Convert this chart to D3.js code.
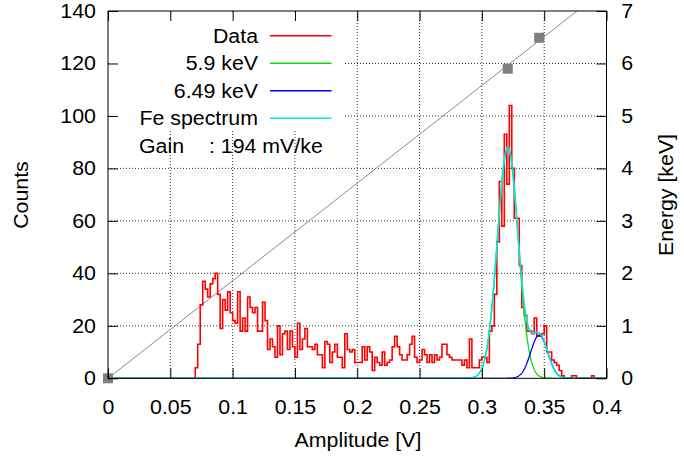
<!DOCTYPE html>
<html>
<head>
<meta charset="UTF-8">
<script src="https://d3js.org/d3.v7.min.js"></script>
<style>
body { margin: 0; background: #fff; }
svg text { font-family: "Liberation Sans", Arial, Helvetica, sans-serif; font-size: 19.4px; fill: #000; }
</style>
</head>
<body>
<svg width="684" height="466"></svg>
<script>
// histogram, counts per 0.002 V bin starting at 0.070 V
var binStart = 0.070;
var binWidth = 0.002;
var counts = [
  4, 13, 28, 37, 34, 31, 36, 38, 40, 32, 19, 30, 26, 33, 25,
  22, 21, 33, 18, 23, 18, 31, 27, 25, 27, 18, 18, 29, 22, 11,
  15, 12, 8, 20, 9, 17, 18, 11, 18, 12, 8, 21, 11, 15, 19,
  12, 12, 11, 13, 9, 9, 4, 14, 13, 6, 10, 13, 8, 8, 4,
  17, 11, 10, 11, 6, 6, 6, 12, 7, 12, 10, 3, 8, 6, 5,
  10, 5, 6, 7, 12, 16, 12, 9, 7, 7, 9, 13, 16, 8, 6,
  7, 11, 9, 6, 9, 6, 9, 7, 8, 13, 13, 9, 8, 7, 7,
  7, 7, 5, 7, 4, 15, 4, 4, 4, 7, 8, 8, 6, 18, 20,
  32, 52, 75, 58, 93, 74, 104, 80, 61, 61, 43, 27, 24, 18, 18,
  17, 23, 16, 16, 17, 20, 10, 10, 7, 6, 5, 3, 1, 0, 0,
  0, 1, 1, 0, 0, 0, 0, 0, 0, 1, 0
];

// gaussian fit results: [height, mean V, sigma V]
var fit59 = [88, 0.3208, 0.0083];
var fit649 = [16.5, 0.346, 0.0068];

// calibration points and gain line (V -> keV)
var calibAmp = [0, 0.3208, 0.346];
var calibEnergy = [0, 5.9, 6.49];
var gainAmp = [0, 0.4];
var gainEnergy = [0, 7.44];

var xTicks = [0, 0.05, 0.1, 0.15, 0.2, 0.25, 0.3, 0.35, 0.4];
var countTicks = [0, 20, 40, 60, 80, 100, 120, 140];
var energyTicks = [0, 1, 2, 3, 4, 5, 6, 7];
var legendNames = ["Data", "5.9 keV", "6.49 keV", "Fe spectrum"];
var gainText = ": 194 mV/ke";

var colors = ["#ff0000", "#00e600", "#0000ff", "#00e5e5"];
var SX = 1.1; // fonts look horizontally stretched in the original

var svg = d3.select("svg");
var pL = 108, pR = 606.5, pT = 11, pB = 378.3;

var x = d3.scaleLinear().domain([0, 0.4]).range([pL, pR]);
var y = d3.scaleLinear().domain([0, 140]).range([pB, pT]);
var yE = d3.scaleLinear().domain([0, 7]).range([pB, pT]);

svg.append("defs").append("clipPath").attr("id", "plotclip")
  .append("rect").attr("x", pL).attr("y", pT)
  .attr("width", pR - pL).attr("height", pB - pT);

// dotted grid
var grid = svg.append("g").attr("stroke", "#333").attr("stroke-width", 1)
  .attr("stroke-dasharray", "1,2");
grid.selectAll(".gx").data(xTicks.slice(1, -1)).enter().append("line")
  .attr("x1", d => x(d)).attr("x2", d => x(d))
  .attr("y1", pT).attr("y2", pB);
grid.selectAll(".gy").data(countTicks.slice(1, -1)).enter().append("line")
  .attr("x1", pL).attr("x2", pR)
  .attr("y1", d => y(d)).attr("y2", d => y(d));

// opaque key background
svg.append("rect").attr("x", pL + 1).attr("y", pT + 1)
  .attr("width", 343 - pL - 1).attr("height", 130 - pT - 1)
  .attr("fill", "#fff");

var plot = svg.append("g").attr("clip-path", "url(#plotclip)");

// gain line
plot.append("line")
  .attr("x1", x(gainAmp[0])).attr("y1", yE(gainEnergy[0]))
  .attr("x2", x(gainAmp[1])).attr("y2", yE(gainEnergy[1]))
  .attr("stroke", "#8a8a8a").attr("stroke-width", 1);

// histogram steps
var histPts = [[0, 0]];
counts.forEach(function(c, i) { histPts.push([binStart + i * binWidth, c]); });
histPts.push([binStart + counts.length * binWidth, 0]);
histPts.push([0.4, 0]);

var stepLine = d3.line().x(d => x(d[0])).y(d => y(d[1])).curve(d3.curveStepAfter);
plot.append("path").attr("d", stepLine(histPts))
  .attr("fill", "none").attr("stroke", colors[0]).attr("stroke-width", 1.6);

function gauss(p, v) {
  return p[0] * Math.exp(-0.5 * Math.pow((v - p[1]) / p[2], 2));
}
var xs = d3.range(0, 0.40001, 0.0005);
var curve = d3.line().x(d => x(d[0])).y(d => y(d[1]));

plot.append("path").attr("d", curve(xs.map(v => [v, gauss(fit59, v)])))
  .attr("fill", "none").attr("stroke", colors[1]).attr("stroke-width", 1.3);
plot.append("path").attr("d", curve(xs.map(v => [v, gauss(fit649, v)])))
  .attr("fill", "none").attr("stroke", colors[2]).attr("stroke-width", 1.3);
plot.append("path").attr("d", curve(xs.map(v => [v, gauss(fit59, v) + gauss(fit649, v)])))
  .attr("fill", "none").attr("stroke", colors[3]).attr("stroke-width", 1.6);

// calibration squares
svg.selectAll(".sq").data(calibAmp).enter().append("rect")
  .attr("x", (d, i) => x(d) - 5).attr("y", (d, i) => yE(calibEnergy[i]) - 5)
  .attr("width", 10).attr("height", 10).attr("fill", "#7f7f7f");

// axes
var fmt = d => String(+d.toFixed(2));
var gB = svg.append("g").attr("transform", "translate(0," + pB + ")")
  .call(d3.axisBottom(x).tickValues(xTicks).tickSize(-10).tickPadding(22).tickFormat(fmt));
var gT = svg.append("g").attr("transform", "translate(0," + pT + ")")
  .call(d3.axisTop(x).tickValues(xTicks).tickSize(-10).tickFormat(""));
var gL = svg.append("g").attr("transform", "translate(" + pL + ",0)")
  .call(d3.axisLeft(y).tickValues(countTicks).tickSize(-10).tickPadding(11).tickFormat(fmt));
var gR = svg.append("g").attr("transform", "translate(" + pR + ",0)")
  .call(d3.axisRight(yE).tickValues(energyTicks).tickSize(-10).tickPadding(13.5).tickFormat(fmt));

[gB, gT, gL, gR].forEach(function(g) {
  g.select(".domain").remove();
  g.selectAll("line").attr("stroke", "#000");
  g.selectAll("text").attr("transform", "scale(" + SX + ",1)");
});

svg.append("rect").attr("x", pL).attr("y", pT)
  .attr("width", pR - pL).attr("height", pB - pT)
  .attr("fill", "none").attr("stroke", "#000").attr("stroke-width", 1);

// titles
function label(str, tx, ty, anchor, rot) {
  svg.append("text")
    .attr("transform", "translate(" + tx + "," + ty + ")" + (rot ? " rotate(" + rot + ")" : "") + " scale(" + SX + ",1)")
    .attr("text-anchor", anchor)
    .text(str);
}
label("Amplitude [V]", 358, 447, "middle");
label("Counts", 28, 195, "middle", -90);
label("Energy [keV]", 673, 195, "middle", -90);

// legend
var rowY = [35.7, 63.3, 90.7, 118.3];
legendNames.forEach(function(name, i) {
  label(name, 258, rowY[i] + 7, "end");
  svg.append("line").attr("x1", 270).attr("x2", 331.5)
    .attr("y1", rowY[i]).attr("y2", rowY[i])
    .attr("stroke", colors[i]).attr("stroke-width", 1.5);
});
label("Gain", 139, 146 + 7, "start");
label(gainText, 209, 146 + 7, "start");
</script>
</body>
</html>
